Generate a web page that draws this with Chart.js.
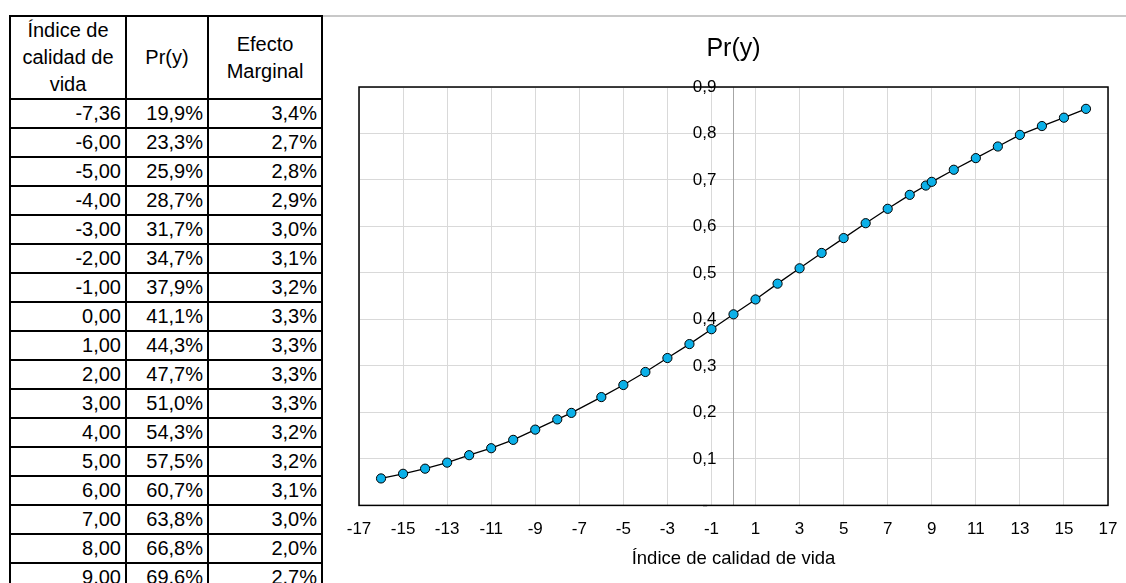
<!DOCTYPE html>
<html>
<head>
<meta charset="utf-8">
<title>Pr(y)</title>
<script src="https://cdn.jsdelivr.net/npm/chart.js@4.4.1/dist/chart.umd.min.js"></script>
<style>
    html, body {
        margin: 0;
        padding: 0;
        width: 1126px;
        height: 583px;
        overflow: hidden;
        background: #fff;
        font-family: 'Liberation Sans', Arial, sans-serif;
    }
    #tabla {
        position: absolute;
        left: 9px;
        top: 15px;
        border-collapse: collapse;
        font-size: 20px;
        color: #000;
    }
    #tabla th, #tabla td {
        border: 2px solid #000;
        padding: 0 4px;
        line-height: 27px;
    }
    #tabla th {
        font-weight: normal;
        text-align: center;
        height: 81px;
    }
    #tabla td {
        text-align: right;
        height: 26px;
    }
    #marco {
        position: absolute;
        left: 323px;
        top: 15px;
        width: 803px;
        height: 568px;
        border-top: 2px solid #c8c8c8;
    }
    #chartBox {
        position: absolute;
        left: 325px;
        top: 17px;
        width: 801px;
        height: 566px;
    }
</style>
</head>
<body>
<table id="tabla">
    <thead>
        <tr>
            <th style="width:106px">Índice de<br>calidad de<br>vida</th>
            <th style="width:72px">Pr(y)</th>
            <th style="width:104px">Efecto<br>Marginal</th>
        </tr>
    </thead>
    <tbody id="tablaBody"></tbody>
</table>
<div id="marco"></div>
<div id="chartBox"><canvas id="prChart"></canvas></div>

<script>
// Table data
const tablaIndice = [-7.36, -6, -5, -4, -3, -2, -1, 0, 1, 2, 3, 4, 5, 6, 7, 8, 9];
const tablaPr = [19.9, 23.3, 25.9, 28.7, 31.7, 34.7, 37.9, 41.1, 44.3, 47.7, 51.0, 54.3, 57.5, 60.7, 63.8, 66.8, 69.6];
const tablaEfecto = [3.4, 2.7, 2.8, 2.9, 3.0, 3.1, 3.2, 3.3, 3.3, 3.3, 3.3, 3.2, 3.2, 3.1, 3.0, 2.0, 2.7];

// Chart data
const indiceVida = [-16, -15, -14, -13, -12, -11, -10, -9, -8, -7.36, -6, -5, -4, -3, -2, -1, 0,
    1, 2, 3, 4, 5, 6, 7, 8, 8.73, 9, 10, 11, 12, 13, 14, 15, 16];
const probY = [0.058, 0.068, 0.079, 0.092, 0.108, 0.123, 0.141, 0.163, 0.185, 0.199, 0.233, 0.259, 0.287, 0.317, 0.347, 0.379, 0.411,
    0.443, 0.477, 0.510, 0.543, 0.575, 0.607, 0.638, 0.668, 0.688, 0.696, 0.722, 0.747, 0.772, 0.797, 0.816, 0.834, 0.853];

const fontFamily = "'Liberation Sans', Arial, sans-serif";

function coma(v, dec) {
    return v.toFixed(dec).replace('.', ',');
}

// Build table rows
const tbody = document.getElementById('tablaBody');
tablaIndice.forEach((v, i) => {
    const tr = document.createElement('tr');
    tr.innerHTML = '<td>' + coma(v, 2) + '</td>' +
        '<td>' + coma(tablaPr[i], 1) + '%</td>' +
        '<td>' + coma(tablaEfecto[i], 1) + '%</td>';
    tbody.appendChild(tr);
});

// Black frame around plot area
const plotBorder = {
    id: 'plotBorder',
    beforeDatasetsDraw(chart) {
        const {ctx, chartArea} = chart;
        ctx.save();
        ctx.strokeStyle = '#000';
        ctx.lineWidth = 1.5;
        ctx.strokeRect(chartArea.left, chartArea.top, chartArea.right - chartArea.left, chartArea.bottom - chartArea.top);
        ctx.restore();
    }
};

Chart.defaults.font.family = fontFamily;
Chart.defaults.color = '#000';

// en spaces push the right-aligned y labels away from the centre axis
const gapY = '\u2002\u2002';

const ctx = document.getElementById('prChart').getContext('2d');
const prChart = new Chart(ctx, {
    type: 'scatter',
    data: {
        datasets: [{
            label: 'Pr(y)',
            data: indiceVida.map((x, i) => ({x: x, y: probY[i]})),
            showLine: true,
            borderColor: '#000',
            borderWidth: 1.3,
            pointBackgroundColor: '#0bb0e8',
            pointBorderColor: '#000',
            pointBorderWidth: 1,
            pointRadius: 4.6,
            tension: 0
        }]
    },
    options: {
        responsive: true,
        maintainAspectRatio: false,
        animation: false,
        layout: {
            padding: {left: 34, right: 18, top: 0, bottom: 13}
        },
        scales: {
            x: {
                type: 'linear',
                min: -17,
                max: 17,
                grid: {
                    color: '#d9d9d9',
                    drawTicks: false
                },
                border: {display: false},
                ticks: {
                    stepSize: 2,
                    autoSkip: false,
                    maxRotation: 0,
                    padding: 14,
                    font: {size: 17},
                    callback: v => String(v)
                },
                title: {
                    display: true,
                    text: 'Índice de calidad de vida',
                    font: {size: 18.5},
                    padding: {top: -6, bottom: 0}
                },
                // end labels should not push the plot area inwards
                afterFit: scale => {
                    scale.paddingLeft = 0;
                    scale.paddingRight = 0;
                }
            },
            y: {
                type: 'linear',
                position: {x: 0},
                min: 0,
                max: 0.9,
                grid: {
                    color: '#d9d9d9',
                    drawTicks: false
                },
                border: {color: '#a6a6a6', width: 1},
                ticks: {
                    stepSize: 0.1,
                    padding: 0,
                    font: {size: 17},
                    callback: v => (Math.abs(v) < 1e-9 ? '-\u2002' + gapY : coma(v, 1) + gapY)
                }
            }
        },
        plugins: {
            legend: {display: false},
            tooltip: {enabled: false},
            title: {
                display: true,
                text: 'Pr(y)',
                font: {size: 25, weight: 'normal'},
                padding: {top: 17, bottom: 23}
            }
        }
    },
    plugins: [plotBorder]
});
</script>
</body>
</html>
